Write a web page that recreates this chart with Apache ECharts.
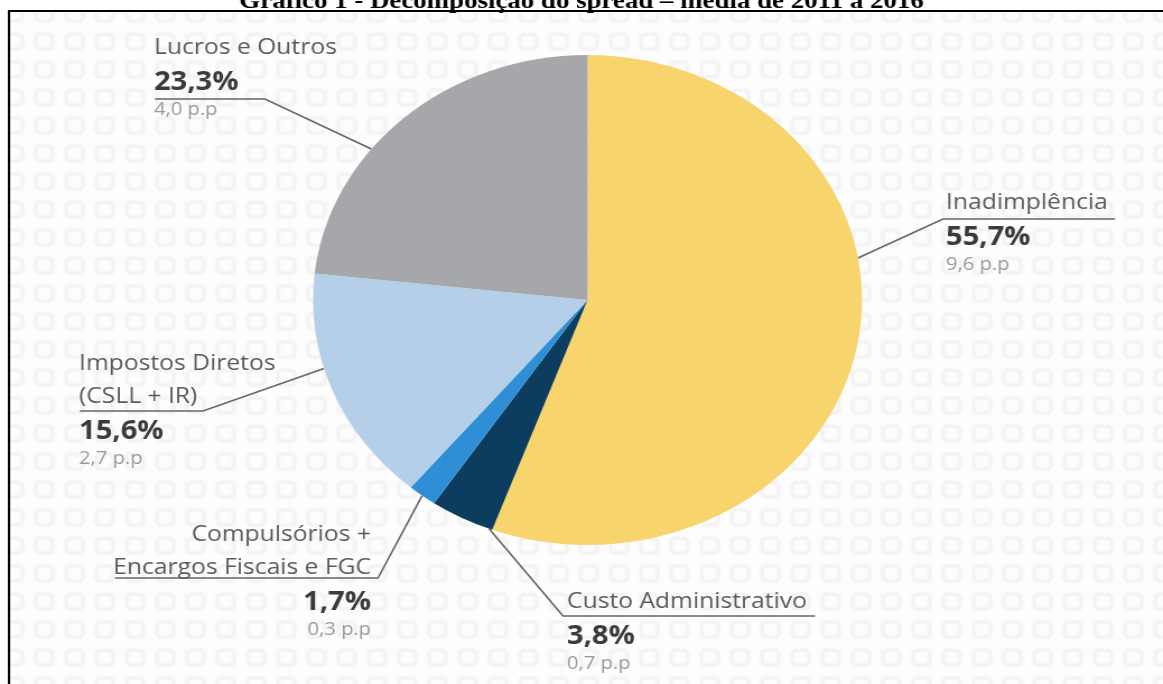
<!DOCTYPE html>
<html>
<head>
<meta charset="utf-8">
<script src="https://cdn.jsdelivr.net/npm/echarts@6/dist/echarts.min.js"></script>
<style>
  html, body { margin: 0; padding: 0; background: #fff; overflow: hidden; width: 1163px; height: 684px; }
  /* the figure is drawn narrower and widened, so the pie comes out as an ellipse */
  #chart { width: 1038px; height: 684px; transform: scaleX(1.1204); transform-origin: 0 0; }
</style>
</head>
<body>
<div id="chart"></div>
<script>
// Spread decomposition, average 2011-2016
const categories = ['Inadimplência', 'Custo Administrativo', 'Compulsórios + Encargos Fiscais e FGC', 'Impostos Diretos (CSLL + IR)', 'Lucros e Outros'];
const shares = [55.7, 3.8, 1.7, 15.6, 23.3];          // % of the spread
const pointsPp = [9.6, 0.7, 0.3, 2.7, 4.0];           // percentage points
const nameLines = [
  ['Inadimplência'],
  ['Custo Administrativo'],
  ['Compulsórios +', 'Encargos Fiscais e FGC'],
  ['Impostos Diretos', '(CSLL + IR)'],
  ['Lucros e Outros']
];
const titleText = 'Gráfico 1 - Decomposição do spread – média de 2011 a 2016';

const colors = ['#F7D46C', '#0C3C5E', '#2E8FD6', '#B5CFE8', '#A5A7AA'];
const SX = 1.1204;
const px = x => x / SX;   // page x -> drawing x

// label block anchor, underline row and extent, and where along the slice the leader meets the pie
const labelSpots = [
  { x: 946, y: 186.5, align: 'left',  lineY: 219, elbow: 943, end: 1115, at: 0.40 },
  { x: 567, y: 585.5, align: 'left',  lineY: 616, elbow: 563, end: 815,  at: 0.05 },
  { x: 371, y: 518.5, align: 'right', lineY: 578, elbow: 378, end: 115,  at: 0.50 },
  { x: 79,  y: 347.5, align: 'left',  lineY: 411, elbow: 203, end: 80,   at: 0.60 },
  { x: 154, y: 31.5,  align: 'left',  lineY: 99,  elbow: 265, end: 155,  at: 0.38 }
];

const fmt = v => v.toFixed(1).replace('.', ',');

// faint logo watermark tile
function makeTile() {
  const c = document.createElement('canvas');
  c.width = 27; c.height = 28;
  const g = c.getContext('2d');
  g.fillStyle = '#fdfdfd';
  g.fillRect(0, 0, 27, 28);
  g.filter = 'blur(0.9px)';
  g.strokeStyle = '#eeeeee';
  g.lineWidth = 2.4;
  g.beginPath();
  g.roundRect(5, 6, 15, 15, 4);
  g.stroke();
  return c;
}

const chart = echarts.init(document.getElementById('chart'), null, { renderer: 'canvas' });

const data = categories.map((name, i) => ({
  name: name,
  value: shares[i],
  itemStyle: { color: colors[i] }
}));

chart.setOption({
  animation: false,
  backgroundColor: '#ffffff',
  title: {
    text: titleText,
    left: 'center',
    top: -10,
    padding: 0,
    textStyle: { fontFamily: 'Liberation Serif', fontWeight: 'bold', fontSize: 24, color: '#000' }
  },
  graphic: [
    {
      type: 'rect', z: -10, silent: true,
      shape: { x: px(8), y: 11, width: 1100, height: 700 },
      style: { fill: { image: makeTile(), repeat: 'repeat' } }
    },
    {
      type: 'polyline', z: 10, silent: true,
      shape: { points: [[px(9), 700], [px(9), 11], [1100, 11]] },
      style: { stroke: '#000', lineWidth: 2, fill: null }
    }
  ],
  series: [{
    type: 'pie',
    center: [px(587.5), 300],
    radius: 245,
    startAngle: 90,
    clockwise: true,
    avoidLabelOverlap: false,
    data: data,
    label: {
      show: true,
      position: 'outside',
      formatter: function (p) {
        const i = p.dataIndex;
        const names = nameLines[i].map(t => '{n|' + t + '}').join('\n');
        return names + '\n{p|' + fmt(shares[i]) + '%}\n{s|' + fmt(pointsPp[i]) + ' p.p}';
      },
      rich: {
        n: { fontFamily: 'Open Sans', fontSize: 22, color: '#5a5a5a', lineHeight: 33 },
        p: { fontFamily: 'Open Sans', fontSize: 26, fontWeight: 'bold', color: '#3b3b3b', lineHeight: 37 },
        s: { fontFamily: 'Open Sans', fontSize: 18, color: '#999999', lineHeight: 16 }
      }
    },
    labelLine: {
      show: true,
      length: 20,
      length2: 20,
      lineStyle: { color: '#666', width: 1.6 }
    },
    labelLayout: function (p) {
      const s = labelSpots[p.dataIndex];
      let start = p.labelLinePoints ? p.labelLinePoints[0] : [0, 0];
      try {
        const lay = chart.getModel().getSeriesByIndex(0).getData().getItemLayout(p.dataIndex);
        const a = lay.startAngle + (lay.endAngle - lay.startAngle) * s.at;
        start = [lay.cx + lay.r * Math.cos(a), lay.cy + lay.r * Math.sin(a)];
      } catch (e) {}
      return {
        x: px(s.x),
        y: s.y,
        align: s.align,
        verticalAlign: 'top',
        labelLinePoints: [start, [px(s.elbow), s.lineY], [px(s.end), s.lineY]]
      };
    }
  }]
});
</script>
</body>
</html>
